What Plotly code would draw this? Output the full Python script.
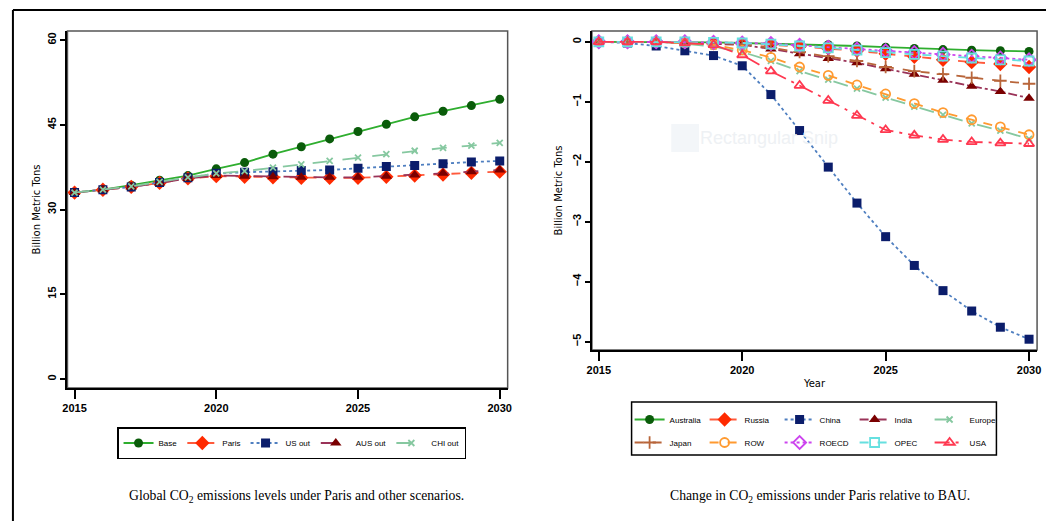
import plotly.graph_objects as go

W, H = 1050, 521

years = list(range(2015, 2031))

# Left panel: global CO2 emissions (billion metric tons)
base    = [33.0, 33.5, 34.3, 35.2, 36.0, 37.2, 38.3, 39.8, 41.1, 42.5, 43.8, 45.1, 46.4, 47.4, 48.4, 49.5]
paris   = [33.0, 33.5, 34.0, 34.7, 35.5, 35.9, 35.8, 35.7, 35.6, 35.6, 35.6, 35.8, 36.0, 36.2, 36.5, 36.7]
us_out  = [33.0, 33.5, 34.0, 34.8, 35.6, 36.4, 36.6, 36.7, 36.9, 37.0, 37.3, 37.6, 37.8, 38.1, 38.4, 38.6]
aus_out = [33.0, 33.5, 34.0, 34.7, 35.5, 36.0, 35.9, 35.8, 35.7, 35.7, 35.7, 35.9, 36.1, 36.4, 36.7, 37.0]
chi_out = [33.0, 33.5, 34.1, 34.9, 35.7, 36.4, 36.8, 37.4, 38.0, 38.6, 39.2, 39.8, 40.4, 40.9, 41.3, 41.8]

# Right panel: change in CO2 emissions under Paris relative to BAU (billion metric tons)
australia = [0, 0, 0, -0.01, -0.01, -0.02, -0.03, -0.04, -0.05, -0.07, -0.09, -0.11, -0.13, -0.14, -0.15, -0.16]
russia    = [0, 0, 0, -0.01, -0.02, -0.03, -0.05, -0.08, -0.11, -0.15, -0.20, -0.25, -0.30, -0.34, -0.37, -0.42]
china     = [0, -0.02, -0.07, -0.15, -0.23, -0.40, -0.88, -1.48, -2.09, -2.69, -3.25, -3.73, -4.15, -4.49, -4.76, -4.96]
india     = [0, 0, 0, -0.02, -0.03, -0.05, -0.12, -0.20, -0.28, -0.35, -0.45, -0.54, -0.64, -0.74, -0.83, -0.94]
europe    = [0, 0, 0, -0.03, -0.08, -0.17, -0.32, -0.49, -0.63, -0.78, -0.93, -1.08, -1.22, -1.36, -1.48, -1.62]
japan     = [0, 0, 0, -0.01, -0.02, -0.04, -0.10, -0.17, -0.24, -0.32, -0.42, -0.49, -0.54, -0.60, -0.65, -0.70]
row       = [0, 0, 0, -0.02, -0.05, -0.14, -0.26, -0.42, -0.56, -0.72, -0.87, -1.03, -1.18, -1.30, -1.42, -1.55]
roecd     = [0, 0, 0, 0, -0.01, -0.02, -0.03, -0.06, -0.09, -0.12, -0.15, -0.18, -0.21, -0.24, -0.27, -0.30]
opec      = [0, 0, 0, 0, -0.01, -0.02, -0.04, -0.07, -0.10, -0.14, -0.18, -0.21, -0.24, -0.27, -0.30, -0.32]
usa       = [0, 0, 0, -0.02, -0.05, -0.22, -0.49, -0.73, -0.98, -1.23, -1.47, -1.56, -1.63, -1.67, -1.69, -1.70]

left_ticks = [0, 15, 30, 45, 60]
right_ticks = [0, -1, -2, -3, -4, -5]
x_ticks = [2015, 2020, 2025, 2030]

GREEN_L, GREEN_M = "#2fae2f", "#0a5c0a"
RED_L, RED_M = "#ff5a3c", "#ff2a00"
NAVY_L, NAVY_M = "#4f7fc0", "#0b1d6b"
MAROON_L, MAROON_M = "#9a3358", "#7a0000"
MINT = "#86c8a0"
SIENNA = "#b8653a"
ORANGE = "#ff9a30"
VIOLET = "#cc44ee"
CYAN = "#66e0e0"
PINK = "#ff3850"

fig = go.Figure()

def add(y, name, lc, mc, dash, symbol, xa, ya, legend, msize=9, lw=1.8):
    outline = 1.8 if ("open" in symbol or symbol in ("x-thin", "cross-thin")) else 0
    fig.add_trace(go.Scatter(
        x=years, y=y, name=name, mode="lines+markers",
        line=dict(color=lc, dash=dash, width=lw),
        marker=dict(color=mc, symbol=symbol, size=msize, line=dict(color=mc, width=outline)),
        xaxis=xa, yaxis=ya, legend=legend,
    ))

# left panel
add(base, "Base", GREEN_L, GREEN_M, "solid", "circle", "x", "y", "legend")
add(paris, "Paris", RED_L, RED_M, "dash", "diamond", "x", "y", "legend", msize=11)
add(us_out, "US out", NAVY_L, NAVY_M, "dot", "square", "x", "y", "legend")
add(aus_out, "AUS out", MAROON_L, MAROON_M, "longdash", "triangle-up", "x", "y", "legend", msize=10)
add(chi_out, "CHI out", MINT, MINT, "longdash", "x-thin", "x", "y", "legend", msize=6)

# right panel, row 1 of legend
add(australia, "Australia", GREEN_L, GREEN_M, "solid", "circle", "x2", "y2", "legend2")
add(russia, "Russia", RED_L, RED_M, "dash", "diamond", "x2", "y2", "legend2", msize=11)
add(china, "China", NAVY_L, NAVY_M, "dot", "square", "x2", "y2", "legend2")
add(india, "India", MAROON_L, MAROON_M, "dashdot", "triangle-up", "x2", "y2", "legend2", msize=10)
add(europe, "Europe", MINT, MINT, "longdash", "x-thin", "x2", "y2", "legend2", msize=6)
# row 2 of legend
add(japan, "Japan", SIENNA, SIENNA, "dash", "cross-thin", "x2", "y2", "legend3", msize=9)
add(row, "ROW", ORANGE, ORANGE, "dash", "circle-open", "x2", "y2", "legend3", msize=9)
add(roecd, "ROECD", VIOLET, VIOLET, "dot", "diamond-open", "x2", "y2", "legend3", msize=10)
add(opec, "OPEC", CYAN, CYAN, "dash", "square-open", "x2", "y2", "legend3", msize=9)
add(usa, "USA", PINK, PINK, "longdashdot", "triangle-up-open", "x2", "y2", "legend3", msize=9)

def px_x(p):
    return p / W

def px_y(p):
    return 1 - p / H

tick_font = dict(family="Liberation Sans, Arial, sans-serif", size=11, color="black", weight="bold")
title_font = dict(family="DejaVu Sans, Liberation Sans, sans-serif", size=10, color="black")
leg_font = dict(family="Liberation Sans Narrow, Liberation Sans, Arial, sans-serif", size=8, color="black")

common_x = dict(tickvals=x_ticks, ticks="outside", ticklen=9, tickwidth=1.5, tickcolor="black",
                showline=True, linecolor="black", linewidth=2, showgrid=False, zeroline=False,
                tickfont=tick_font)
common_y = dict(ticks="outside", ticklen=5, tickwidth=1.5, tickcolor="black", tickangle=-90,
                showline=True, linecolor="black", linewidth=2, showgrid=False, zeroline=False,
                tickfont=tick_font)

fig.update_layout(
    width=W, height=H, margin=dict(l=0, r=0, t=0, b=0),
    paper_bgcolor="white", plot_bgcolor="white",
    showlegend=True,
    xaxis=dict(domain=[px_x(63), px_x(507)], range=[2014.75, 2030.28], anchor="y", **common_x),
    yaxis=dict(domain=[px_y(388), px_y(31)], range=[-1.6, 61.6], anchor="x", tickvals=left_ticks,
               title=dict(text="Billion Metric Tons", font=title_font, standoff=4), **common_y),
    xaxis2=dict(domain=[px_x(592), px_x(1041)], range=[2014.76, 2030.28], anchor="y2",
                title=dict(text="Year", font=title_font, standoff=5), **common_x),
    yaxis2=dict(domain=[px_y(350), px_y(31)], range=[-5.14, 0.18], anchor="x2", tickvals=right_ticks,
                title=dict(text="Billion Metric Tons", font=title_font, standoff=6), **common_y),
    legend=dict(orientation="h", x=px_x(113), y=px_y(427), xanchor="left", yanchor="top",
                bordercolor="black", borderwidth=1.5, bgcolor="white", font=leg_font,
                itemwidth=30, tracegroupgap=0),
    legend2=dict(orientation="h", x=px_x(630), y=px_y(405), xanchor="left", yanchor="top",
                 bgcolor="rgba(0,0,0,0)", font=leg_font, itemwidth=30, entrywidth=30),
    legend3=dict(orientation="h", x=px_x(630), y=px_y(428), xanchor="left", yanchor="top",
                 bgcolor="rgba(0,0,0,0)", font=leg_font, itemwidth=30, entrywidth=30),
)

shapes = [
    # plot frames (top/right in grey)
    dict(type="rect", xref="x domain", yref="y domain", x0=0, x1=1, y0=0, y1=1,
         line=dict(color="#555555", width=1.5), layer="below"),
    dict(type="rect", xref="x2 domain", yref="y2 domain", x0=0, x1=1, y0=0, y1=1,
         line=dict(color="#555555", width=1.5), layer="below"),
    # right legend box
    dict(type="rect", xref="paper", yref="paper", x0=px_x(632), x1=px_x(1000), y0=px_y(455), y1=px_y(402),
         line=dict(color="black", width=1.5), fillcolor="rgba(0,0,0,0)", layer="above"),
    # outer figure frame (top and left)
    dict(type="line", xref="paper", yref="paper", x0=px_x(8), x1=1, y0=px_y(10), y1=px_y(10),
         line=dict(color="black", width=2)),
    dict(type="line", xref="paper", yref="paper", x0=px_x(8), x1=px_x(8), y0=0, y1=px_y(10),
         line=dict(color="black", width=2)),
    # faint watermark icon
    dict(type="rect", xref="paper", yref="paper", x0=px_x(672), x1=px_x(700), y0=px_y(152), y1=px_y(124),
         line=dict(width=0), fillcolor="#f3f6f9", layer="below"),
]
fig.update_layout(shapes=shapes)

cap_font = dict(family="Liberation Serif, Times New Roman, serif", size=13.7, color="black")
fig.add_annotation(text="Global CO<sub>2</sub> emissions levels under Paris and other scenarios.",
                   xref="paper", yref="paper", x=px_x(294), y=px_y(496), showarrow=False,
                   font=cap_font, xanchor="center", yanchor="middle")
fig.add_annotation(text="Change in CO<sub>2</sub> emissions under Paris relative to BAU.",
                   xref="paper", yref="paper", x=px_x(822), y=px_y(496), showarrow=False,
                   font=cap_font, xanchor="center", yanchor="middle")
fig.add_annotation(text="Rectangular Snip", xref="paper", yref="paper", x=px_x(771), y=px_y(138),
                   showarrow=False, font=dict(family="Liberation Sans Narrow, Liberation Sans, sans-serif",
                                              size=18, color="#eef1f4"),
                   xanchor="center", yanchor="middle")

fig.write_html("out.html")
